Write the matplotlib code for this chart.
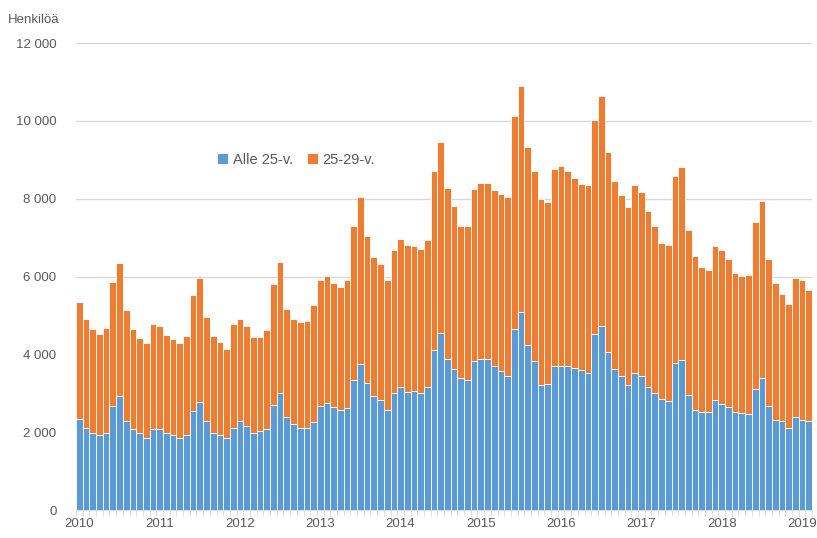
"""Monthly stacked bars: persons under 25 and 25-29, 2010-2019."""

import matplotlib
matplotlib.use("Agg")
import matplotlib.pyplot as plt
import numpy as np

plt.rcParams["font.family"] = ["Liberation Sans", "DejaVu Sans"]

years = [str(y) for y in range(2010, 2020)]

# monthly values, Jan 2010 .. Feb 2019
under_25 = [
    2330, 2110, 1970, 1940, 1970, 2680, 2940, 2300, 2070, 1970, 1840, 2070,
    2070, 1990, 1920, 1860, 1940, 2550, 2780, 2280, 1970, 1940, 1840, 2120,
    2300, 2160, 1990, 2020, 2070, 2690, 3010, 2380, 2210, 2120, 2120, 2260,
    2680, 2740, 2640, 2560, 2620, 3350, 3760, 3270, 2940, 2840, 2570, 3010,
    3150, 3040, 3050, 3010, 3150, 4120, 4560, 3880, 3630, 3400, 3350, 3830,
    3890, 3890, 3710, 3580, 3440, 4650, 5080, 4250, 3840, 3220, 3250, 3700,
    3710, 3710, 3660, 3610, 3530, 4520, 4740, 4060, 3630, 3450, 3220, 3510,
    3450, 3150, 3010, 2860, 2790, 3770, 3850, 2960, 2570, 2510, 2510, 2840,
    2730, 2640, 2510, 2500, 2460, 3120, 3380, 2680, 2320, 2280, 2110, 2380,
    2320, 2300,
]
total = [
    5340, 4900, 4650, 4520, 4680, 5860, 6360, 5150, 4650, 4420, 4290, 4790,
    4720, 4500, 4400, 4290, 4470, 5520, 5960, 4970, 4470, 4320, 4140, 4770,
    4910, 4720, 4450, 4450, 4630, 5800, 6380, 5170, 4910, 4820, 4850, 5260,
    5920, 6010, 5830, 5730, 5910, 7310, 8050, 7030, 6490, 6320, 5910, 6670,
    6970, 6810, 6790, 6720, 6940, 8710, 9460, 8270, 7810, 7290, 7310, 8260,
    8400, 8400, 8230, 8130, 8040, 10120, 10890, 9340, 8710, 8000, 7910, 8770,
    8840, 8720, 8520, 8390, 8360, 10030, 10630, 9210, 8460, 8090, 7790, 8360,
    8180, 7690, 7300, 6870, 6820, 8580, 8810, 7200, 6540, 6240, 6180, 6790,
    6680, 6450, 6100, 6010, 6040, 7390, 7950, 6450, 5830, 5560, 5300, 5970,
    5920, 5650,
]
age_25_29 = [t - u for t, u in zip(total, under_25)]

y_ticks = [0, 2000, 4000, 6000, 8000, 10000, 12000]
y_tick_labels = ["0", "2 000", "4 000", "6 000", "8 000", "10 000", "12 000"]

BLUE = "#5B9BD5"
ORANGE = "#ED7D31"
TEXT = "#595959"

fig = plt.figure(figsize=(8.17, 5.38), dpi=100)
ax = fig.add_axes([0.093, 0.052, 0.901, 0.868])

x = np.arange(len(total))
ax.bar(x, under_25, width=1.0, color=BLUE, edgecolor="white", linewidth=0.6,
       label="Alle 25-v.", zorder=2)
ax.bar(x, age_25_29, width=1.0, bottom=under_25, color=ORANGE, edgecolor="white",
       linewidth=0.6, label="25-29-v.", zorder=2)

ax.set_xlim(-0.5, len(total) - 0.5)
ax.set_ylim(0, 12000)
ax.set_yticks(y_ticks)
ax.set_yticklabels(y_tick_labels)
ax.yaxis.grid(True, color="#D9D9D9", linewidth=1)
ax.set_axisbelow(True)

ax.set_xticks(np.arange(0, len(total), 12))
ax.set_xticklabels(years)
ax.set_xticks(np.arange(-0.5, len(total), 1), minor=True)
ax.tick_params(axis="x", which="major", length=0, pad=6)
ax.tick_params(axis="x", which="minor", length=4, color="#D9D9D9")
ax.tick_params(axis="y", length=0, pad=14)
ax.tick_params(labelsize=9.5, labelcolor=TEXT)

for side in ["top", "right", "left"]:
    ax.spines[side].set_visible(False)
ax.spines["bottom"].set_color("#D9D9D9")

fig.text(0.01, 0.963, "Henkilöä", fontsize=9.5, color=TEXT, va="center")

fig.legend(loc="center left", bbox_to_anchor=(0.25, 0.703), ncol=2, frameon=False,
           handlelength=0.75, handleheight=0.75, handletextpad=0.3, columnspacing=1.0,
           fontsize=10.5, labelcolor=TEXT)

fig.savefig("out.png", dpi=100)
